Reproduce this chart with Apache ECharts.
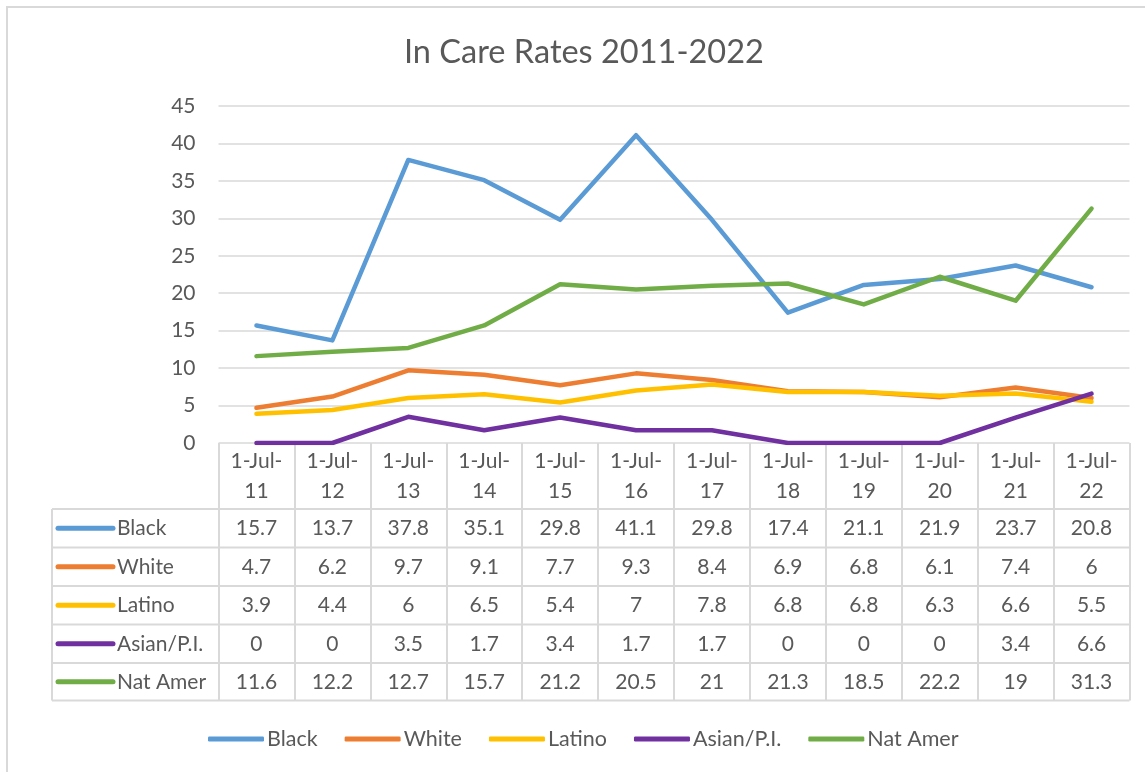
<!DOCTYPE html>
<html>
<head>
<meta charset="utf-8">
<script src="https://cdn.jsdelivr.net/npm/echarts@6/dist/echarts.min.js"></script>
<style>html,body{margin:0;padding:0;background:#fff}#c{width:1145px;height:772px}</style>
</head>
<body>
<div id="c"></div>
<script>
const categories = ['1-Jul-11','1-Jul-12','1-Jul-13','1-Jul-14','1-Jul-15','1-Jul-16','1-Jul-17','1-Jul-18','1-Jul-19','1-Jul-20','1-Jul-21','1-Jul-22'];
const black    = [15.7, 13.7, 37.8, 35.1, 29.8, 41.1, 29.8, 17.4, 21.1, 21.9, 23.7, 20.8];
const white    = [4.7, 6.2, 9.7, 9.1, 7.7, 9.3, 8.4, 6.9, 6.8, 6.1, 7.4, 6];
const latino   = [3.9, 4.4, 6, 6.5, 5.4, 7, 7.8, 6.8, 6.8, 6.3, 6.6, 5.5];
const asian    = [0, 0, 3.5, 1.7, 3.4, 1.7, 1.7, 0, 0, 0, 3.4, 6.6];
const natAmer  = [11.6, 12.2, 12.7, 15.7, 21.2, 20.5, 21, 21.3, 18.5, 22.2, 19, 31.3];
const seriesNames = ['Black', 'White', 'Latino', 'Asian/P.I.', 'Nat Amer'];
const seriesData = [black, white, latino, asian, natAmer];
const colors = ['#5B9BD5', '#ED7D31', '#FFC000', '#7030A0', '#70AD47'];
const yTicks = { min: 0, max: 45, interval: 5 };

const FONT = 'Lato';
const TXT = '#595959';
const LINE = '#D9D9D9';
const FS = 21;

// layout
const gridLeft = 218.5, gridRight = 1129.5, gridTop = 106, gridBottomY = 443;
const rowEdges = [509, 547.5, 586, 624.5, 663, 700.5];
const tableLeft = 52;

const chart = echarts.init(document.getElementById('c'));

const xAxes = [{
  type: 'category', data: categories, gridIndex: 0, boundaryGap: true,
  axisLine: { show: false },
  axisTick: { show: true, length: rowEdges[5] - gridBottomY, interval: 0, lineStyle: { color: LINE, width: 2 } },
  axisLabel: {
    interval: 0, margin: 33, verticalAlign: 'middle', lineHeight: 30,
    fontFamily: FONT, fontSize: FS, color: TXT,
    formatter: v => v.replace(/-(\d+)$/, '-\n$1')
  }
}];
seriesData.forEach((arr, i) => {
  const center = (rowEdges[i] + rowEdges[i + 1]) / 2;
  xAxes.push({
    type: 'category', data: categories, gridIndex: 0, position: 'bottom',
    offset: center - gridBottomY,
    axisLine: { show: false }, axisTick: { show: false }, splitLine: { show: false },
    axisLabel: {
      interval: 0, margin: 0, verticalAlign: 'middle',
      fontFamily: FONT, fontSize: FS, color: TXT,
      formatter: (v, idx) => String(arr[idx])
    }
  });
});

const graphic = [];
graphic.push({ type: 'rect', shape: { x: 7, y: 7, width: 1160, height: 790 }, style: { fill: null, stroke: LINE, lineWidth: 2 }, silent: true });
rowEdges.forEach(y => {
  graphic.push({ type: 'line', shape: { x1: tableLeft, y1: y, x2: gridRight, y2: y }, style: { stroke: LINE, lineWidth: 2 }, silent: true });
});
graphic.push({ type: 'line', shape: { x1: tableLeft, y1: rowEdges[0], x2: tableLeft, y2: rowEdges[5] }, style: { stroke: LINE, lineWidth: 2 }, silent: true });
seriesNames.forEach((name, i) => {
  const cy = (rowEdges[i] + rowEdges[i + 1]) / 2;
  graphic.push({ type: 'line', shape: { x1: 58, y1: cy, x2: 113, y2: cy }, style: { stroke: colors[i], lineWidth: 5, lineCap: 'round' }, silent: true });
  graphic.push({ type: 'text', x: 117, y: cy, style: { text: name, fontFamily: FONT, fontSize: FS, fill: TXT, verticalAlign: 'middle' }, silent: true });
});

chart.setOption({
  animation: false,
  backgroundColor: '#fff',
  color: colors,
  title: {
    text: 'In Care Rates 2011-2022', left: 399, top: 31,
    textStyle: { fontFamily: FONT, fontSize: 32.5, fontWeight: 'normal', color: TXT }
  },
  legend: {
    data: seriesNames, left: 203, top: 723,
    icon: 'roundRect', itemWidth: 56, itemHeight: 5, itemGap: 27,
    textStyle: { fontFamily: FONT, fontSize: 21.5, color: TXT, padding: [0, 0, 0, -2] }
  },
  grid: { left: gridLeft, right: 1145 - gridRight, top: gridTop, bottom: 772 - gridBottomY, containLabel: false },
  xAxis: xAxes,
  yAxis: {
    type: 'value', min: yTicks.min, max: yTicks.max, interval: yTicks.interval,
    axisLine: { show: false }, axisTick: { show: false },
    splitLine: { lineStyle: { color: LINE, width: 1.5 } },
    axisLabel: { margin: 23, fontFamily: FONT, fontSize: FS, color: TXT }
  },
  graphic: graphic,
  series: seriesNames.map((name, i) => ({
    name, type: 'line', data: seriesData[i], xAxisIndex: 0, yAxisIndex: 0,
    symbol: 'none', showSymbol: false,
    lineStyle: { width: 4.5, color: colors[i], cap: 'round', join: 'round' },
    itemStyle: { color: colors[i] }
  }))
});
</script>
</body>
</html>
